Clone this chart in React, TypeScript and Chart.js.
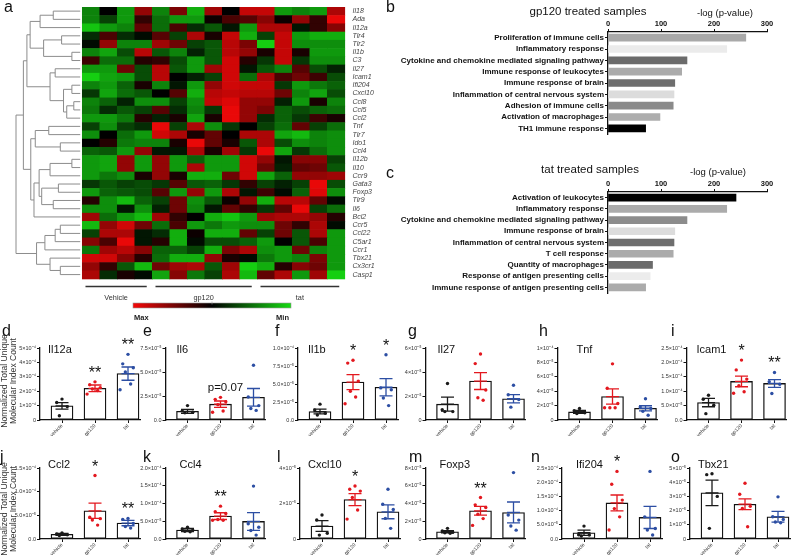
import React, { useEffect, useRef } from 'react';
import { Chart, registerables } from 'chart.js';

Chart.register(...registerables);

const W = 800;
const H = 557;
const FONT = "'Liberation Sans', Arial, Helvetica, sans-serif";
Chart.defaults.font.family = FONT;

// ---------------- a: heatmap data ----------------
const genes = ['Il18', 'Ada', 'Il12a', 'Tlr4', 'Tlr2', 'Il1b', 'C3', 'Il27', 'Icam1', 'Ifi204', 'Cxcl10', 'Ccl8', 'Ccl5', 'Ccl2', 'Tnf', 'Tlr7', 'Ido1', 'Ccl4', 'Il12b', 'Il10', 'Ccr9', 'Gata3', 'Foxp3', 'Tlr9', 'Il6', 'Bcl2', 'Ccr5', 'Ccl22', 'C5ar1', 'Ccr1', 'Tbx21', 'Cx3cr1', 'Casp1'];
const sampleGroups = ['Vehicle', 'gp120', 'tat'];
const samplesPerGroup = [4, 6, 5];
// relative expression, +1 = max (red), -1 = min (green)
const heatValues = [
  [-0.6, 0, -0.7, 0.6, -0.6, 0.5, -0.8, 0.65, 0, 0.8, 0.8, -0.7, -0.6, -0.7, 0.7],
  [-0.6, -0.3, -0.7, 0.2, -0.5, -0.7, -0.7, 0.05, 0.3, 0.35, 0.55, 0.05, 0.6, 0.2, 0.95],
  [-0.9, -0.7, -0.6, 0.4, -0.5, 0.3, -0.2, -0.4, -0.1, -0.7, 0.7, 0.7, -0.1, 0.2, 0.55],
  [-0.2, 0.3, -0.2, -0.05, 0.35, -0.3, 0.7, 0.1, 0.8, -0.8, -0.3, 0.8, -0.7, -0.8, -0.8],
  [-0.05, 0.6, -0.6, -0.6, 0.65, 0.45, -0.3, -0.4, 0.75, 0.5, -0.95, 0.8, -0.65, -0.65, -0.65],
  [-0.6, -0.75, -0.35, 0.75, -0.4, -0.6, -0.15, -0.4, 0.75, 0.6, 0.1, 0.8, 0.1, -0.7, -0.7],
  [0.25, -0.5, -0.5, 0.15, 0.2, -0.35, -0.7, -0.4, 0.85, 0.15, -0.25, 0.8, -0.25, -0.65, -0.65],
  [-0.7, -0.7, 0.45, -0.35, 0.75, -0.4, -0.7, 0.65, 0.85, -0.1, -0.4, -0.6, 0.35, -0.35, -0.15],
  [-0.95, -0.75, -0.7, -0.35, 0.75, 0, -0.15, -0.3, 0.85, -0.5, 0.7, 0.3, 0.45, 0.25, -0.35],
  [-0.6, -0.7, -0.45, 0.1, -0.6, -0.1, -0.7, 0.6, 0.85, 0.8, 0.8, -0.25, -0.7, -0.55, -0.45],
  [-0.25, -0.75, -0.5, -0.4, 0, 0.35, -0.8, 0.75, 0.8, 0.75, 0.75, 0.45, -0.6, -0.75, -0.35],
  [-0.6, -0.45, -0.15, -0.65, -0.65, -0.3, -0.65, 0.8, 0.9, 0.6, 0.6, -0.15, -0.7, 0.1, -0.6],
  [-0.55, -0.2, -0.4, -0.3, 0.35, -0.2, -0.6, -0.25, 0.95, 0.6, 0.5, -0.45, -0.35, -0.45, -0.5],
  [-0.7, -0.7, -0.55, 0.15, -0.15, 0.1, -0.75, 0.1, 0.95, 0.6, -0.2, -0.45, -0.25, 0.25, 0.1],
  [-0.3, -0.65, -0.3, -0.2, 0.95, -0.3, 0.7, -0.65, -0.25, 0, -0.3, -0.5, 0.4, -0.3, -0.5],
  [-0.65, 0, -0.5, -0.7, 0.85, 0.7, 0.1, 0.4, 0, 0.7, 0.7, -0.75, -0.85, -0.6, -0.65],
  [0, 0.15, -0.55, -0.6, -0.6, 0.1, 0.95, 0.4, 0.1, -0.4, 0.7, -0.35, -0.65, -0.6, -0.65],
  [-0.45, -0.4, -0.7, 0.6, -0.1, -0.1, 0.7, 0.1, 0.65, -0.25, 0.95, -0.75, -0.25, -0.5, -0.65],
  [-0.7, -0.75, 0.6, -0.7, 0.6, -0.7, -0.45, -0.7, -0.7, 0.85, 0.6, -0.1, 0.55, 0.55, -0.3],
  [-0.7, -0.75, 0.6, -0.7, 0.6, -0.7, 0.7, -0.7, -0.7, 0.85, 0.45, -0.15, 0.4, 0.45, -0.4],
  [-0.7, -0.55, -0.65, 0.1, 0.6, 0.1, -0.8, -0.8, 0.45, 0.85, -0.75, -0.45, 0.6, 0.6, 0.65],
  [-0.25, -0.4, -0.3, -0.35, -0.25, 0.35, -0.4, -0.45, -0.25, 0.2, -0.3, -0.15, -0.3, 0.95, -0.35],
  [-0.7, -0.45, -0.4, -0.35, 0.35, -0.7, 0.6, -0.7, 0.7, -0.1, 0.25, -0.05, -0.45, 0.9, -0.65],
  [0.15, -0.65, -0.85, -0.45, -0.3, 0.45, -0.65, -0.4, 0.05, 0.6, -0.8, 0.75, 0.75, 0.4, -0.05],
  [-0.65, -0.65, -0.1, -0.65, -0.15, 0.45, -0.6, -0.1, 0.4, 0.2, -0.25, 0.4, 0.95, -0.3, -0.5],
  [0.65, -0.5, -0.7, -0.85, 0.65, 0.2, 0, -0.8, -0.9, -0.7, 0.65, 0.7, 0.7, 0.6, 0.15],
  [-0.85, 0.6, 0.85, 0.45, -0.5, 0.3, -0.7, -0.55, -0.7, -0.65, -0.65, 0.45, 0.2, 0.7, -0.05],
  [-0.3, 0.7, 0.7, -0.1, -0.2, -0.8, 0.05, -0.8, -0.8, 0.4, -0.3, 0.45, -0.4, 0.7, -0.7],
  [0.55, 0.3, 0.95, -0.1, 0.15, -0.8, -0.05, -0.35, -0.35, -0.45, -0.7, 0, -0.4, 0.3, -0.7],
  [-0.55, 0.65, 0.75, 0.55, -0.45, -0.45, -0.3, -0.8, 0.5, 0.7, -0.65, -0.7, 0.45, -0.6, -0.7],
  [0.85, 0.85, 0.55, 0.15, -0.5, -0.8, -0.8, 0.6, 0.1, -0.05, -0.55, -0.7, -0.6, 0.5, -0.7],
  [0.6, 0.2, -0.4, -0.85, 0.45, 0.65, 0.7, -0.4, 0.65, -0.95, -0.8, 0.15, 0.55, 0.45, -0.7],
  [0.7, -0.2, 0.1, -0.05, -0.75, 0.55, -0.55, -0.3, 0.7, -0.85, 0.4, 0.7, -0.7, 0.65, -0.95],
];
// hierarchical clustering of genes: [childA, childB, height]; leaves 0..32, new nodes 33+
const dendroMerges: [number, number, number][] = [
  [0, 1, 0.42], [33, 2, 0.625], [3, 4, 0.29], [5, 6, 0.13], [35, 36, 0.57], [34, 37, 0.78],
  [7, 8, 0.39], [9, 10, 0.13], [11, 12, 0.1], [41, 13, 0.21], [40, 42, 0.26], [39, 43, 0.47],
  [38, 44, 0.83], [14, 15, 0.49], [16, 17, 0.31], [46, 47, 0.7], [18, 19, 0.13], [49, 20, 0.47],
  [21, 22, 0.34], [23, 24, 0.42], [51, 52, 0.6], [50, 53, 0.64], [54, 25, 0.72], [48, 55, 0.77],
  [45, 56, 0.885], [26, 27, 0.31], [58, 28, 0.39], [59, 29, 0.55], [31, 32, 0.31], [30, 61, 0.47],
  [60, 62, 0.68], [57, 63, 1.0],
];

// ---------------- b, c: pathway enrichment ----------------
const gp120Pathways = ['Proliferation of immune cells', 'Inflammatory response', 'Cytokine and chemokine mediated signaling pathway', 'Immune response of leukocytes', 'Immune response of brain', 'Inflammation of central nervous system', 'Adhesion of immune cells', 'Activation of macrophages', 'TH1 immune response'];
const gp120NegLogP = [260, 224, 149, 139, 126, 124.5, 123, 98, 71];
const gp120Shades = ['#a9a9a9', '#ebebeb', '#6b6b6b', '#ababab', '#6e6e6e', '#dcdcdc', '#8a8a8a', '#adadad', '#000000'];
const tatPathways = ['Activation of leukocytes', 'Inflammatory response', 'Cytokine and chemokine mediated signaling pathway', 'Immune response of brain', 'Inflammation of central nervous system', 'T cell response', 'Quantity of macrophages', 'Response of antigen presenting cells', 'Immune response of antigen presenting cells'];
const tatNegLogP = [241.5, 224, 149, 126, 124.5, 123, 84, 79.5, 71];
const tatShades = ['#000000', '#ababab', '#8c8c8c', '#dcdcdc', '#6e6e6e', '#ababab', '#6b6b6b', '#ececec', '#ababab'];
const pathwayTicks = [0, 100, 200, 300];

// ---------------- d–o: normalized counts (values in units of 1e-5) ----------------
const conditions = ['vehicle', 'gp120', 'tat'];
type Gene = { name: string; mean: number[]; sem: number[]; points: number[][]; ticks: number[]; tickLabels: string[]; marks: string[] };
const Il12a: Gene = { name: 'Il12a', mean: [9.8, 22.0, 32.2], sem: [2.3, 2.3, 4.6], points: [[14.5, 12.2, 9.3, 3.0], [26.5, 24.5, 22.5, 21.5, 20.5, 18.0], [45.6, 39.0, 36.3, 33.3, 25.0, 21.0]], ticks: [0, 10, 20, 30, 40, 50], tickLabels: ['0', '1×10⁻⁴', '2×10⁻⁴', '3×10⁻⁴', '4×10⁻⁴', '5×10⁻⁴'], marks: ['', '**', '**'] };
const Il6: Gene = { name: 'Il6', mean: [0.9, 1.65, 2.36], sem: [0.2, 0.33, 0.92], points: [[1.5, 0.95, 0.8, 0.75], [2.36, 2.15, 1.9, 1.6, 0.94, 0.8], [5.7, 2.4, 1.5, 1.2, 1.0]], ticks: [0, 2.5, 5, 7.5], tickLabels: ['0.0', '2.5×10⁻⁵', '5.0×10⁻⁵', '7.5×10⁻⁵'], marks: ['', 'p=0.07', ''] };
const Il1b: Gene = { name: 'Il1b', mean: [1.17, 5.26, 4.55], sem: [0.33, 1.05, 1.2], points: [[2.2, 1.4, 0.94, 0.7], [8.3, 7.9, 5.4, 4.0, 3.2, 2.25], [9.06, 4.46, 4.2, 3.05, 2.0]], ticks: [0, 2.5, 5, 7.5, 10], tickLabels: ['0.0', '2.5×10⁻⁵', '5.0×10⁻⁵', '7.5×10⁻⁵', '1.0×10⁻⁴'], marks: ['', '*', '*'] };
const Il27: Gene = { name: 'Il27', mean: [1.32, 3.24, 1.77], sem: [0.58, 0.7, 0.35], points: [[3.04, 0.85, 0.7, 0.7], [5.5, 4.7, 2.5, 1.85, 1.65], [2.9, 2.1, 1.7, 1.07]], ticks: [0, 2, 4, 6], tickLabels: ['0', '2×10⁻⁵', '4×10⁻⁵', '6×10⁻⁵'], marks: ['', '', ''] };
const Tnf: Gene = { name: 'Tnf', mean: [1.12, 3.26, 1.63], sem: [0.2, 1.05, 0.35], points: [[1.6, 1.3, 1.0, 0.9], [7.8, 4.4, 2.3, 1.7, 1.7, 1.7], [2.95, 1.8, 1.6, 1.2, 0.65]], ticks: [0, 2, 4, 6, 8, 10], tickLabels: ['0', '2×10⁻⁵', '4×10⁻⁵', '6×10⁻⁵', '8×10⁻⁵', '1×10⁻⁴'], marks: ['', '', ''] };
const Icam1: Gene = { name: 'Icam1', mean: [6.05, 13.4, 12.7], sem: [1.45, 1.85, 1.35], points: [[8.6, 7.2, 5.1, 2.2], [20.8, 17.4, 14.2, 11.9, 9.8, 9.3], [16.5, 13.3, 12.4, 9.2]], ticks: [0, 5, 10, 15, 20, 25], tickLabels: ['0.0', '5.0×10⁻⁵', '1.0×10⁻⁴', '1.5×10⁻⁴', '2.0×10⁻⁴', '2.5×10⁻⁴'], marks: ['', '*', '**'] };
const Ccl2: Gene = { name: 'Ccl2', mean: [0.98, 5.96, 3.36], sem: [0.2, 1.6, 0.56], points: [[1.3, 1.05, 0.9, 0.75], [13.4, 4.6, 4.3, 4.0, 2.94], [4.35, 4.15, 3.3, 2.65, 2.3]], ticks: [0, 5, 10, 15], tickLabels: ['0.0', '5.0×10⁻⁵', '1.0×10⁻⁴', '1.5×10⁻⁴'], marks: ['', '*', '**'] };
const Ccl4: Gene = { name: 'Ccl4', mean: [2.52, 6.45, 4.95], sem: [0.45, 0.95, 2.5], points: [[3.3, 2.8, 2.5, 2.2, 2.05], [9.25, 7.7, 7.2, 5.5, 5.3, 5.3], [14.9, 4.3, 3.3, 2.4, 1.1]], ticks: [0, 5, 10, 15, 20], tickLabels: ['0.0', '5.0×10⁻⁵', '1.0×10⁻⁴', '1.5×10⁻⁴', '2.0×10⁻⁴'], marks: ['', '**', ''] };
const Cxcl10: Gene = { name: 'Cxcl10', mean: [0.73, 2.22, 1.53], sem: [0.3, 0.34, 0.39], points: [[1.35, 1.07, 0.32, 0.22], [2.99, 2.8, 2.7, 2.34, 1.63, 1.12], [2.8, 1.96, 1.66, 1.16, 0.6]], ticks: [0, 2, 4], tickLabels: ['0', '2×10⁻⁵', '4×10⁻⁵'], marks: ['', '*', ''] };
const Foxp3: Gene = { name: 'Foxp3', mean: [0.82, 3.18, 2.99], sem: [0.12, 0.5, 1.18], points: [[1.2, 0.9, 0.75, 0.7, 0.65], [4.67, 3.85, 3.55, 2.8, 2.3, 1.53], [7.48, 2.7, 2.13, 1.46, 1.0]], ticks: [0, 2, 4, 6, 8], tickLabels: ['0', '2×10⁻⁵', '4×10⁻⁵', '6×10⁻⁵', '8×10⁻⁵'], marks: ['', '**', ''] };
const Ifi204: Gene = { name: 'Ifi204', mean: [2.2, 12.7, 7.6], sem: [0.9, 2.8, 3.9], points: [[4.55, 1.5, 1.4, 1.05], [23.8, 19.3, 13.7, 10.7, 7.8, 3.15], [23.8, 7.8, 3.7, 3.15, 1.4]], ticks: [0, 5, 10, 15, 20, 25], tickLabels: ['0.0', '5.0×10⁻⁵', '1.0×10⁻⁴', '1.5×10⁻⁴', '2.0×10⁻⁴', '2.5×10⁻⁴'], marks: ['', '*', ''] };
const Tbx21: Gene = { name: 'Tbx21', mean: [3.25, 2.45, 1.57], sem: [0.9, 0.38, 0.38], points: [[4.6, 4.53, 3.0, 0.75], [3.93, 3.15, 2.3, 2.15, 0.86], [2.97, 1.57, 1.38, 1.2, 1.14]], ticks: [0, 1, 2, 3, 4, 5], tickLabels: ['0', '1×10⁻⁵', '2×10⁻⁵', '3×10⁻⁵', '4×10⁻⁵', '5×10⁻⁵'], marks: ['', '', ''] };

// ---------------- layout / style ----------------
const HM = { left: 14.6, right: 344.5, top: 7, bottom: 278.7, xMin: -3.85, leafX: -0.1, span: 3.67 };
const GROUP_LINE_Y = 286.5;
const GROUP_LABEL_Y = 298;
const CBAR = { x0: 133, x1: 291, y0: 303, y1: 308 };

type Layout = { letter: string; axisX: number; row: number; letterX: number; titleDx: number; yLabel?: boolean };
const panelGenes = [Il12a, Il6, Il1b, Il27, Tnf, Icam1, Ccl2, Ccl4, Cxcl10, Foxp3, Ifi204, Tbx21];
const panelLayout: Layout[] = [
  { letter: 'd', axisX: 40, row: 0, letterX: 2, titleDx: 8, yLabel: true },
  { letter: 'e', axisX: 165.5, row: 0, letterX: 143, titleDx: 11 },
  { letter: 'f', axisX: 298, row: 0, letterX: 275, titleDx: 10 },
  { letter: 'g', axisX: 425.5, row: 0, letterX: 408, titleDx: 12 },
  { letter: 'h', axisX: 557.5, row: 0, letterX: 539, titleDx: 19 },
  { letter: 'i', axisX: 686.5, row: 0, letterX: 671, titleDx: 10 },
  { letter: 'j', axisX: 40, row: 1, letterX: 0, titleDx: 8, yLabel: true },
  { letter: 'k', axisX: 165.5, row: 1, letterX: 143, titleDx: 14 },
  { letter: 'l', axisX: 300, row: 1, letterX: 277, titleDx: 8 },
  { letter: 'm', axisX: 425.5, row: 1, letterX: 409, titleDx: 14 },
  { letter: 'n', axisX: 562, row: 1, letterX: 531, titleDx: 14 },
  { letter: 'o', axisX: 690, row: 1, letterX: 671, titleDx: 8 },
];
const ROW_TOP = [348, 468];
const ROW_BASE = [420, 539];
const LETTER_BASE = [336, 462];
const TITLE_BASE = [353, 468];
const YLABEL_CENTER = [381, 509];
const PLOT_W = 100;
const FIRST_C = 22;
const STEP_C = 33;
const YW = 40;
const XH = 16;
const GROUP_COLORS = ['#1a1a1a', '#e3181f', '#2c4ea3'];
const JITTER = [0, -0.16, 0.16, -0.08, 0.08, -0.24, 0.24];

function colorFor(v: number) {
  const a = Math.min(1, Math.abs(v));
  if (v >= 0) return `rgb(${Math.round(245 * a)},${Math.round(8 * a)},${Math.round(8 * a)})`;
  return `rgb(${Math.round(22 * a)},${Math.round(218 * a)},${Math.round(18 * a)})`;
}

const noInteract = { responsive: false, animation: false as const, events: [] as any[] };

// ---------------- a: heatmap chart ----------------
function buildHeatmap() {
  const plugin = {
    id: 'heat',
    afterDraw(chart: any) {
      const { ctx } = chart;
      const xs = chart.scales.x;
      const ys = chart.scales.y;
      ctx.save();
      // cells
      heatValues.forEach((row, r) => {
        row.forEach((v, c) => {
          const x0 = xs.getPixelForValue(c);
          const x1 = xs.getPixelForValue(c + 1);
          const y0 = ys.getPixelForValue(r);
          const y1 = ys.getPixelForValue(r + 1);
          ctx.fillStyle = colorFor(v);
          ctx.fillRect(x0, y0, x1 - x0 + 0.6, y1 - y0 + 0.6);
        });
      });
      // dendrogram
      const nodes: { y: number; h: number }[] = genes.map((_, i) => ({ y: i + 0.5, h: 0 }));
      const hx = (h: number) => xs.getPixelForValue(HM.leafX - h * HM.span);
      ctx.strokeStyle = '#8c8c8c';
      ctx.lineWidth = 1;
      ctx.beginPath();
      dendroMerges.forEach(([a, b, h]) => {
        const na = nodes[a];
        const nb = nodes[b];
        const xa = hx(na.h), xb = hx(nb.h), xn = hx(h);
        const ya = ys.getPixelForValue(na.y), yb = ys.getPixelForValue(nb.y);
        ctx.moveTo(xa, ya); ctx.lineTo(xn, ya);
        ctx.moveTo(xb, yb); ctx.lineTo(xn, yb);
        ctx.moveTo(xn, ya); ctx.lineTo(xn, yb);
        nodes.push({ y: (na.y + nb.y) / 2, h });
      });
      ctx.stroke();
      // gene labels
      ctx.fillStyle = '#444';
      ctx.font = `italic 7px ${FONT}`;
      ctx.textAlign = 'left';
      ctx.textBaseline = 'middle';
      genes.forEach((g, i) => {
        ctx.fillText(g, xs.getPixelForValue(heatValues[0].length) + 8, ys.getPixelForValue(i + 0.5));
      });
      // group bars + labels
      let start = 0;
      ctx.strokeStyle = '#333';
      ctx.lineWidth = 1.5;
      ctx.font = `7.3px ${FONT}`;
      ctx.textAlign = 'center';
      ctx.fillStyle = '#333';
      sampleGroups.forEach((gname, gi) => {
        const end = start + samplesPerGroup[gi];
        const x0 = xs.getPixelForValue(start + 0.2);
        const x1 = xs.getPixelForValue(end - 0.3);
        ctx.beginPath();
        ctx.moveTo(x0, GROUP_LINE_Y);
        ctx.lineTo(x1, GROUP_LINE_Y);
        ctx.stroke();
        ctx.fillText(gname, (x0 + x1) / 2, GROUP_LABEL_Y);
        start = end;
      });
      // colour bar
      const grad = ctx.createLinearGradient(CBAR.x0, 0, CBAR.x1, 0);
      grad.addColorStop(0, colorFor(1));
      grad.addColorStop(0.5, colorFor(0));
      grad.addColorStop(1, colorFor(-1));
      ctx.fillStyle = grad;
      ctx.fillRect(CBAR.x0, CBAR.y0, CBAR.x1 - CBAR.x0, CBAR.y1 - CBAR.y0);
      ctx.strokeStyle = '#999';
      ctx.lineWidth = 0.6;
      ctx.strokeRect(CBAR.x0, CBAR.y0, CBAR.x1 - CBAR.x0, CBAR.y1 - CBAR.y0);
      ctx.beginPath();
      ctx.moveTo((CBAR.x0 + CBAR.x1) / 2, CBAR.y0 - 1.5);
      ctx.lineTo((CBAR.x0 + CBAR.x1) / 2, CBAR.y0 + 1.5);
      ctx.stroke();
      ctx.fillStyle = '#222';
      ctx.font = `bold 7.5px ${FONT}`;
      ctx.textBaseline = 'alphabetic';
      ctx.textAlign = 'left';
      ctx.fillText('Max', CBAR.x0 + 1, 320);
      ctx.textAlign = 'right';
      ctx.fillText('Min', CBAR.x1 - 2, 320);
      // panel letter
      ctx.font = `16px ${FONT}`;
      ctx.textAlign = 'left';
      ctx.fillStyle = '#111';
      ctx.fillText('a', 4, 12);
      ctx.restore();
    },
  };
  return {
    type: 'scatter',
    data: { datasets: [{ data: [] }] },
    options: {
      ...noInteract,
      layout: { padding: { left: HM.left, right: W - HM.right, top: HM.top, bottom: H - HM.bottom } },
      plugins: { legend: { display: false }, tooltip: { enabled: false } },
      scales: {
        x: { type: 'linear', display: false, min: HM.xMin, max: heatValues[0].length },
        y: { type: 'linear', display: false, min: 0, max: genes.length, reverse: true },
      },
    },
    plugins: [plugin],
  };
}

// ---------------- b / c: pathway bar charts ----------------
const PW_YW = 220;
const PW_XH = 20;
function pathwayBuilder(labels: string[], values: number[], shades: string[], area: { left: number; right: number; top: number; bottom: number }, texts: { letter: string; lx: number; ly: number; title: string; tx: number; ty: number; ax: number; ay: number }) {
  return () => {
    const plugin = {
      id: 'pwText',
      afterDraw(chart: any) {
        const { ctx } = chart;
        ctx.save();
        ctx.fillStyle = '#111';
        ctx.textBaseline = 'middle';
        ctx.font = `16px ${FONT}`;
        ctx.textAlign = 'left';
        ctx.fillText(texts.letter, texts.lx, texts.ly);
        ctx.textAlign = 'center';
        ctx.font = `11.5px ${FONT}`;
        ctx.fillText(texts.title, texts.tx, texts.ty);
        ctx.font = `9.5px ${FONT}`;
        ctx.fillText('-log (p-value)', texts.ax, texts.ay);
        ctx.restore();
      },
    };
    return {
      type: 'bar',
      data: { labels, datasets: [{ data: values, backgroundColor: shades, borderWidth: 0, barThickness: 7 }] },
      options: {
        ...noInteract,
        indexAxis: 'y',
        layout: { padding: { left: area.left - PW_YW, right: W - area.right, top: area.top - PW_XH, bottom: H - area.bottom } },
        plugins: { legend: { display: false }, tooltip: { enabled: false } },
        scales: {
          x: {
            position: 'top', min: 0, max: 300,
            afterBuildTicks: (s: any) => { s.ticks = pathwayTicks.map((v) => ({ value: v })); },
            ticks: { font: { size: 7.5, weight: 'bold' }, color: '#111', padding: 1 },
            grid: { display: true, drawOnChartArea: false, drawTicks: true, tickLength: 3, color: '#111', lineWidth: 1 },
            border: { display: true, color: '#111', width: 1.3 },
            afterFit: (s: any) => { s.height = PW_XH; },
          },
          y: {
            ticks: { font: { size: 8, weight: 'bold' }, color: '#111', padding: 1, autoSkip: false },
            grid: { display: true, drawOnChartArea: false, drawTicks: true, tickLength: 3, color: '#111', offset: false },
            border: { display: true, color: '#111', width: 1.3 },
            afterFit: (s: any) => { s.width = PW_YW; },
          },
        },
      },
      plugins: [plugin],
    };
  };
}
const buildGp120 = pathwayBuilder(gp120Pathways, gp120NegLogP, gp120Shades, { left: 608, right: 767, top: 32, bottom: 134 },
  { letter: 'b', lx: 386, ly: 8, title: 'gp120 treated samples', tx: 588, ty: 12, ax: 725, ay: 13 });
const buildTat = pathwayBuilder(tatPathways, tatNegLogP, tatShades, { left: 608, right: 767, top: 192, bottom: 293 },
  { letter: 'c', lx: 386, ly: 174, title: 'tat treated samples', tx: 590, ty: 170, ax: 718, ay: 172 });

// ---------------- d–o: small bar/scatter panels ----------------
function panelBuilder(g: Gene, lay: Layout) {
  return () => {
    const top = ROW_TOP[lay.row];
    const base = ROW_BASE[lay.row];
    const pts: { x: number; y: number }[] = [];
    const ptColors: string[] = [];
    g.points.forEach((arr, i) => arr.forEach((v, k) => {
      pts.push({ x: i + JITTER[k % JITTER.length], y: v });
      ptColors.push(GROUP_COLORS[i]);
    }));
    const errPlugin = {
      id: 'err',
      afterDatasetsDraw(chart: any) {
        const { ctx } = chart;
        const xs = chart.scales.x;
        const ys = chart.scales.y;
        ctx.save();
        ctx.lineWidth = 1.3;
        g.mean.forEach((m, i) => {
          const cx = xs.getPixelForValue(i);
          const yT = ys.getPixelForValue(m + g.sem[i]);
          const yM = ys.getPixelForValue(m);
          const yB = ys.getPixelForValue(Math.max(0, m - g.sem[i]));
          ctx.strokeStyle = GROUP_COLORS[i];
          ctx.beginPath();
          ctx.moveTo(cx, yT); ctx.lineTo(cx, yB);
          [yT, yM, yB].forEach((yy) => { ctx.moveTo(cx - 6.5, yy); ctx.lineTo(cx + 6.5, yy); });
          ctx.stroke();
        });
        ctx.restore();
      },
      afterDraw(chart: any) {
        const { ctx } = chart;
        const xs = chart.scales.x;
        const ys = chart.scales.y;
        ctx.save();
        ctx.fillStyle = '#111';
        ctx.textBaseline = 'alphabetic';
        ctx.textAlign = 'left';
        ctx.font = `16px ${FONT}`;
        ctx.fillText(lay.letter, lay.letterX, LETTER_BASE[lay.row]);
        ctx.font = `11px ${FONT}`;
        ctx.fillText(g.name, lay.axisX + lay.titleDx, TITLE_BASE[lay.row]);
        g.marks.forEach((txt, i) => {
          if (!txt) return;
          const hi = Math.max(...g.points[i], g.mean[i] + g.sem[i]);
          const py = ys.getPixelForValue(hi);
          const cx = xs.getPixelForValue(i);
          ctx.textAlign = 'center';
          if (txt.startsWith('p')) {
            ctx.font = `11.5px ${FONT}`;
            ctx.fillText(txt, cx + 5, py - 6);
          } else {
            ctx.font = `16px ${FONT}`;
            ctx.fillText(txt, cx, py - 4);
          }
        });
        if (lay.yLabel) {
          ctx.save();
          ctx.translate(0, YLABEL_CENTER[lay.row]);
          ctx.rotate(-Math.PI / 2);
          ctx.textAlign = 'center';
          ctx.textBaseline = 'middle';
          ctx.font = `8.6px ${FONT}`;
          ctx.fillStyle = '#333';
          ctx.fillText('Normalized Total Unique', 0, 4.5);
          ctx.fillText('Molecular Index Count', 0, 13.5);
          ctx.restore();
        }
        ctx.restore();
      },
    };
    return {
      type: 'bar',
      data: {
        datasets: [
          { type: 'bar', data: g.mean.map((m, i) => ({ x: i, y: m })), backgroundColor: '#ffffff', borderColor: '#111', borderWidth: 1.3, borderSkipped: false, barThickness: 22, order: 2 },
          { type: 'scatter', data: pts, pointBackgroundColor: ptColors, pointBorderWidth: 0, pointRadius: 1.7, showLine: false, order: 1 },
        ],
      },
      options: {
        ...noInteract,
        layout: { padding: { left: lay.axisX - YW, right: W - (lay.axisX + PLOT_W), top, bottom: H - base - XH } },
        plugins: { legend: { display: false }, tooltip: { enabled: false } },
        scales: {
          x: {
            type: 'linear', offset: false,
            min: -FIRST_C / STEP_C, max: (PLOT_W - FIRST_C) / STEP_C,
            afterBuildTicks: (s: any) => { s.ticks = conditions.map((_, i) => ({ value: i })); },
            ticks: { callback: (_v: any, i: number) => conditions[i], font: { size: 5 }, color: '#333', minRotation: 45, maxRotation: 45, autoSkip: false, padding: 0 },
            grid: { display: true, drawOnChartArea: false, drawTicks: true, tickLength: 3, color: '#111', offset: false },
            border: { display: true, color: '#111', width: 1.3 },
            afterFit: (s: any) => { s.height = XH; },
          },
          y: {
            type: 'linear', min: 0, max: g.ticks[g.ticks.length - 1],
            afterBuildTicks: (s: any) => { s.ticks = g.ticks.map((v) => ({ value: v })); },
            ticks: { callback: (_v: any, i: number) => g.tickLabels[i], font: { size: 5.5 }, color: '#333', padding: 1, autoSkip: false },
            grid: { display: true, drawOnChartArea: false, drawTicks: true, tickLength: 3, color: '#111' },
            border: { display: true, color: '#111', width: 1.3 },
            afterFit: (s: any) => { s.width = YW; },
          },
        },
      },
      plugins: [errPlugin],
    };
  };
}
const panelBuilds = panelGenes.map((g, i) => panelBuilder(g, panelLayout[i]));

function ChartLayer({ build }: { build: () => any }) {
  const ref = useRef<HTMLCanvasElement | null>(null);
  useEffect(() => {
    if (!ref.current) return;
    const chart = new Chart(ref.current, build());
    return () => chart.destroy();
  }, [build]);
  return <canvas ref={ref} width={W} height={H} style={{ position: 'absolute', left: 0, top: 0, width: W, height: H }} />;
}

export default function App() {
  return (
    <div style={{ position: 'absolute', left: 0, top: 0, width: W, height: H, background: '#fff', overflow: 'hidden' }}>
      <ChartLayer build={buildHeatmap} />
      <ChartLayer build={buildGp120} />
      <ChartLayer build={buildTat} />
      {panelBuilds.map((b, i) => <ChartLayer key={i} build={b} />)}
    </div>
  );
}
